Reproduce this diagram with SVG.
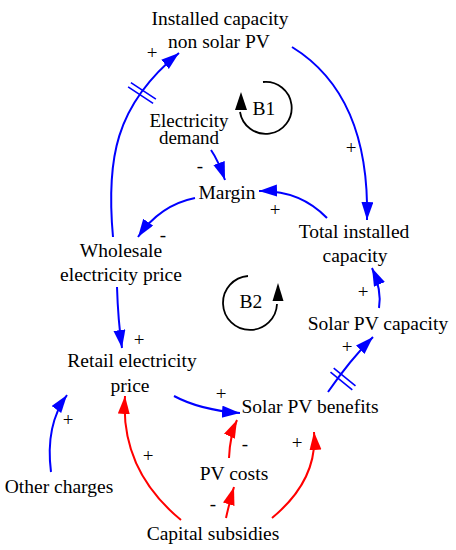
<svg xmlns="http://www.w3.org/2000/svg" width="456" height="550" viewBox="0 0 456 550">
<defs>
<marker id="ab" markerUnits="userSpaceOnUse" markerWidth="20" markerHeight="14" refX="18" refY="6" orient="auto"><path d="M0,0 L18,6 L0,12 z" fill="#0000ff"/></marker>
<marker id="ar" markerUnits="userSpaceOnUse" markerWidth="20" markerHeight="14" refX="18" refY="6" orient="auto"><path d="M0,0 L18,6 L0,12 z" fill="#ff0000"/></marker>
</defs>
<rect width="456" height="550" fill="#fff"/>
<g font-family="Liberation Serif, serif" font-size="19.5" text-anchor="middle" fill="#000">
<g id="connectors">
<g fill="none" stroke="#0000ff" stroke-width="2" marker-end="url(#ab)">
<path d="M113,237 C106,160 115,105 179,53"/>
<path d="M292,47 Q370,95 367,220"/>
<path d="M211,150 Q218,160 225,180"/>
<path d="M327,218 Q300,190 259,191"/>
<path d="M195,198 Q160,205 138,237"/>
<path d="M117,287 Q118,320 122,348"/>
<path d="M379,308 Q382,290 372,268"/>
<path d="M328,392 Q350,360 373,337"/>
<path d="M174,396 Q200,410 240,413"/>
<path d="M51,472 Q45,425 67,395"/>
</g>
<g fill="none" stroke="#0000ff" stroke-width="1.6">
<path d="M130.9,82.6 L155.9,99.2 M128.1,86.8 L153.1,103.4"/>
<path d="M333.7,368.2 L355.5,385.8 M330.5,372.2 L352.3,389.8"/>
</g>
<g fill="none" stroke="#ff0000" stroke-width="2" marker-end="url(#ar)">
<path d="M181,520 Q120,470 125,396"/>
<path d="M229,458 Q230,435 237,420"/>
<path d="M226,518 Q230,500 234,487"/>
<path d="M272,518 Q318,480 314,432"/>
</g>
<g id="polarities" font-size="19">
<text x="152" y="59">+</text>
<text x="351" y="154">+</text>
<text x="200" y="172">-</text>
<text x="275" y="216">+</text>
<text x="163" y="241">-</text>
<text x="139" y="346">+</text>
<text x="363" y="298">+</text>
<text x="347" y="353">+</text>
<text x="221" y="400">+</text>
<text x="68" y="426">+</text>
<text x="148" y="462">+</text>
<text x="245" y="450">-</text>
<text x="297" y="449">+</text>
<text x="213" y="510">-</text>
</g>
</g>
<g id="loopB1">
<path d="M263,82 A26,26 0 1 1 240,112" fill="none" stroke="#000" stroke-width="1.8"/>
<polygon points="241,92 235,110 247,110" fill="#000"/>
<text x="264" y="115">B1</text>
</g>
<g id="loopB2">
<path d="M248,276 A27,27 0 1 0 277,304" fill="none" stroke="#000" stroke-width="1.8"/>
<polygon points="278,283 272.5,301 283.5,301" fill="#000"/>
<text x="251" y="308">B2</text>
</g>
<g id="installedNonSolar"><text x="220" y="25">Installed capacity</text><text x="219" y="48">non solar PV</text></g>
<g id="electricityDemand" font-size="19"><text x="189" y="127">Electricity</text><text x="189" y="144">demand</text></g>
<g id="margin"><text x="227" y="199">Margin</text></g>
<g id="totalInstalled"><text x="354" y="238">Total installed</text><text x="355" y="262">capacity</text></g>
<g id="wholesale"><text x="121" y="257">Wholesale</text><text x="121" y="281">electricity price</text></g>
<g id="solarCapacity"><text x="378" y="330">Solar PV capacity</text></g>
<g id="retail"><text x="132" y="367">Retail electricity</text><text x="130" y="392">price</text></g>
<g id="solarBenefits"><text x="310" y="413">Solar PV benefits</text></g>
<g id="pvCosts"><text x="234" y="480">PV costs</text></g>
<g id="otherCharges"><text x="59" y="493">Other charges</text></g>
<g id="capitalSubsidies"><text x="213" y="540">Capital subsidies</text></g>
</g>
</svg>
